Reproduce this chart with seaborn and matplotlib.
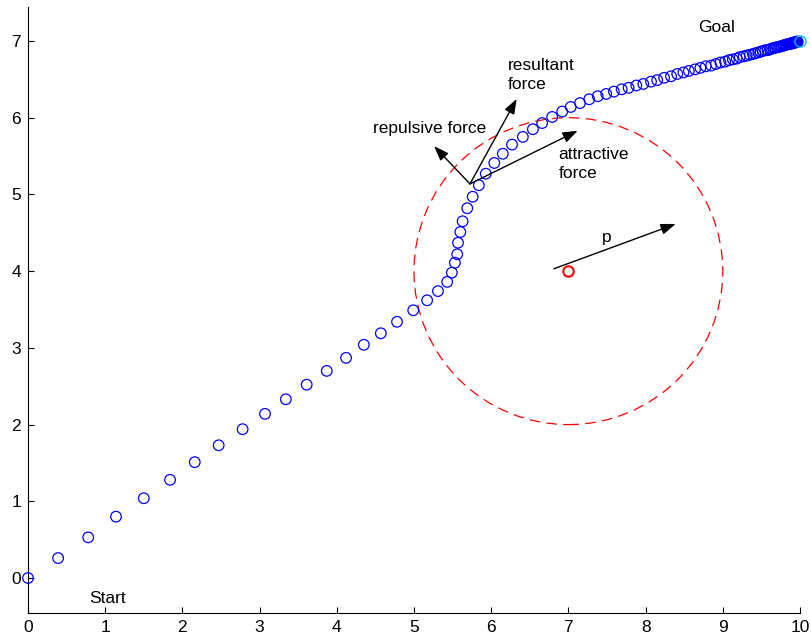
import matplotlib
matplotlib.use("Agg")
import matplotlib.pyplot as plt
from matplotlib.patches import Circle
import seaborn as sns

# path of the robot
path_x = [0, 0.39, 0.78, 1.14, 1.50, 1.84, 2.16, 2.47, 2.78, 3.07, 3.34, 3.61,
          3.87, 4.12, 4.35, 4.57, 4.78, 4.99, 5.17, 5.31, 5.43, 5.49, 5.53, 5.56,
          5.57, 5.60, 5.63, 5.69, 5.76, 5.84, 5.93, 6.04, 6.15, 6.27, 6.41, 6.54,
          6.66, 6.79, 6.92, 7.03, 7.15, 7.27, 7.38, 7.49, 7.59, 7.69, 7.78, 7.88,
          7.97, 8.07, 8.15, 8.24, 8.33, 8.41, 8.49, 8.56, 8.64, 8.71, 8.78, 8.85,
          8.91, 8.97, 9.03, 9.08, 9.13, 9.18, 9.22, 9.27, 9.31, 9.35, 9.39, 9.42,
          9.46, 9.49, 9.52, 9.55, 9.58, 9.61, 9.63, 9.66, 9.68, 9.70, 9.72, 9.74,
          9.76, 9.78, 9.79, 9.81, 9.82, 9.84, 9.85, 9.86, 9.87, 9.88, 9.89, 9.90,
          9.91, 9.92, 9.93, 9.94, 9.95, 9.955, 9.96, 9.965, 9.97]
path_y = [0, 0.26, 0.53, 0.80, 1.04, 1.28, 1.51, 1.73, 1.94, 2.14, 2.33, 2.52,
          2.70, 2.87, 3.04, 3.19, 3.34, 3.49, 3.62, 3.74, 3.86, 3.98, 4.11, 4.22,
          4.37, 4.51, 4.65, 4.82, 4.97, 5.12, 5.27, 5.41, 5.53, 5.65, 5.75, 5.85,
          5.93, 6.01, 6.08, 6.14, 6.19, 6.24, 6.28, 6.31, 6.34, 6.37, 6.39, 6.42,
          6.44, 6.47, 6.49, 6.52, 6.54, 6.57, 6.59, 6.61, 6.63, 6.65, 6.67, 6.68,
          6.70, 6.72, 6.73, 6.75, 6.76, 6.77, 6.79, 6.80, 6.81, 6.82, 6.83, 6.84,
          6.85, 6.86, 6.87, 6.88, 6.88, 6.89, 6.90, 6.91, 6.91, 6.92, 6.92, 6.93,
          6.93, 6.94, 6.94, 6.95, 6.95, 6.96, 6.96, 6.96, 6.96, 6.97, 6.97, 6.97,
          6.97, 6.98, 6.98, 6.98, 6.99, 6.99, 6.99, 6.99, 6.99]

goal = (10, 7)
obstacle = (7, 4)
influence_radius = 2

# force arrows at the point near the obstacle
force_origin = (5.725, 5.137)
repulsive_tip = (5.26, 5.63)
resultant_tip = (6.33, 6.245)
attractive_tip = (7.12, 5.83)
p_start = (6.81, 4.03)
p_tip = (8.39, 4.615)

sns.set_style("ticks")
plt.rcParams['font.family'] = ['Liberation Sans', 'DejaVu Sans']
plt.rcParams['text.color'] = 'k'

fig = plt.figure(figsize=(8.11, 6.38), dpi=100)
ax = fig.add_axes([28 / 811, 25 / 638, 772 / 811, 606 / 638])

sns.scatterplot(x=path_x, y=path_y, marker='o', s=58, facecolors='none',
                edgecolor='b', linewidth=0.9, ax=ax, clip_on=False, zorder=3)
ax.plot(*goal, 'o', mfc='none', mec='c', ms=8, mew=1.0, clip_on=False, zorder=4)
ax.plot(*obstacle, 'o', mfc='none', mec='r', ms=7.5, mew=1.5, zorder=4)

ax.add_patch(Circle(obstacle, influence_radius, fill=False, ec='r', lw=0.9,
                    ls=(0, (8.5, 5))))

arrow = dict(arrowstyle='-|>,head_length=0.6,head_width=0.22', color='k',
             lw=1.0, shrinkA=0, shrinkB=0, mutation_scale=15)
for tip, start in [(repulsive_tip, force_origin), (resultant_tip, force_origin),
                   (attractive_tip, force_origin), (p_tip, p_start)]:
    ax.annotate('', xy=tip, xytext=start, arrowprops=arrow)

fs = 12.5
ax.text(8.68, 7.12, 'Goal', fontsize=fs, color='k')
ax.text(0.79, -0.326, 'Start', fontsize=fs, color='k')
ax.text(4.47, 5.80, 'repulsive force', fontsize=fs, color='k')
ax.text(6.22, 6.375, 'resultant\nforce', fontsize=fs, va='baseline',
        linespacing=1.3, color='k')
ax.text(6.87, 5.215, 'attractive\nforce', fontsize=fs, va='baseline',
        linespacing=1.3, color='k')
ax.text(7.44, 4.38, 'p', fontsize=fs, color='k')

ax.set_xlim(0, 10)
ax.set_ylim(-0.456, 7.443)
ax.set_xticks(range(0, 11))
ax.set_yticks(range(0, 8))
ax.tick_params(direction='in', length=4.5, width=0.8, labelsize=fs, pad=5,
               colors='k')
for side in ['top', 'right']:
    ax.spines[side].set_visible(False)
for side in ['left', 'bottom']:
    ax.spines[side].set_color('k')
    ax.spines[side].set_linewidth(0.8)

fig.savefig('out.png', dpi=100)
